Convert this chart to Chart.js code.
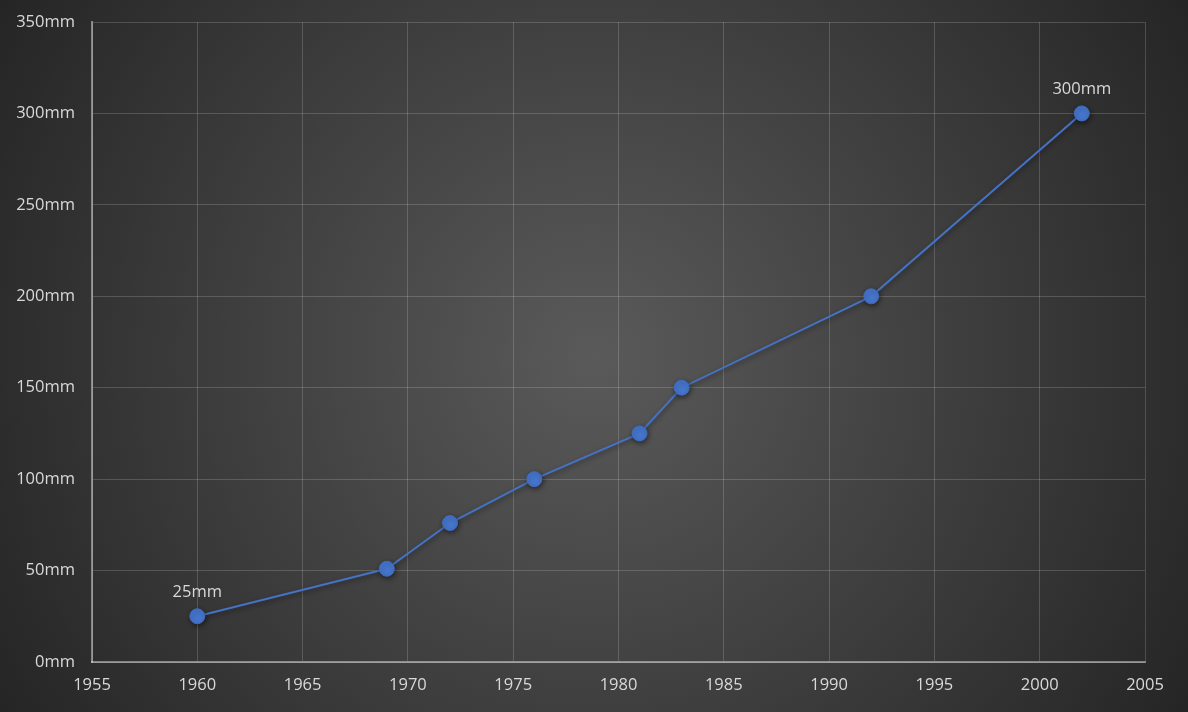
<!DOCTYPE html>
<html>
<head>
<meta charset="utf-8">
<script src="https://cdn.jsdelivr.net/npm/chart.js@4.4.1/dist/chart.umd.min.js"></script>
<style>
  html, body { margin: 0; padding: 0; background: #2b2b2b; }
  #wrap { width: 1188px; height: 712px; }
</style>
</head>
<body>
<div id="wrap"><canvas id="waferChart" width="1188" height="712"></canvas></div>
<script>
// wafer diameter by year
const years = [1960, 1969, 1972, 1976, 1981, 1983, 1992, 2002];
const diameters = [25, 51, 76, 100, 125, 150, 200, 300];
const labelledYears = [1960, 2002];

const textColor = '#d9d9d9';
const fontFamily = "'Open Sans', 'Noto Sans', sans-serif";
const fontSize = 16.5;

// radial background behind everything
const backgroundPlugin = {
  id: 'bg',
  beforeDraw: (chart) => {
    const ctx = chart.ctx;
    const w = chart.width, h = chart.height;
    const g = ctx.createRadialGradient(w / 2, h / 2, 0, w / 2, h / 2, Math.sqrt(w * w + h * h) / 2);
    g.addColorStop(0, '#5a5a5a');
    g.addColorStop(1, '#252525');
    ctx.save();
    ctx.fillStyle = g;
    ctx.fillRect(0, 0, w, h);
    ctx.restore();
  },
};

// soft shadow under line and markers
const shadowPlugin = {
  id: 'shadow',
  beforeDatasetsDraw: (chart) => {
    const ctx = chart.ctx;
    ctx.save();
    ctx.shadowColor = 'rgba(0,0,0,0.45)';
    ctx.shadowBlur = 5;
    ctx.shadowOffsetX = 1;
    ctx.shadowOffsetY = 2;
  },
  afterDatasetsDraw: (chart) => {
    chart.ctx.restore();
  },
};

// value labels above first and last point
const valueLabelPlugin = {
  id: 'valueLabels',
  afterDatasetsDraw: (chart) => {
    const ctx = chart.ctx;
    const xs = chart.scales.x, ys = chart.scales.y;
    ctx.save();
    ctx.fillStyle = textColor;
    ctx.font = fontSize + 'px ' + fontFamily;
    ctx.textAlign = 'center';
    ctx.textBaseline = 'bottom';
    years.forEach((yr, i) => {
      if (!labelledYears.includes(yr)) return;
      ctx.fillText(diameters[i] + 'mm', xs.getPixelForValue(yr), ys.getPixelForValue(diameters[i]) - 16);
    });
    ctx.restore();
  },
};

const ctx = document.getElementById('waferChart').getContext('2d');
new Chart(ctx, {
  type: 'scatter',
  data: {
    datasets: [
      {
        label: 'Wafer diameter',
        data: years.map((yr, i) => ({ x: yr, y: diameters[i] })),
        showLine: true,
        borderColor: '#4472c4',
        borderWidth: 2,
        backgroundColor: '#4675cc',
        pointBackgroundColor: '#4675cc',
        pointBorderColor: '#3f6cc0',
        pointBorderWidth: 1,
        pointRadius: 7.5,
        pointHoverRadius: 7.5,
      },
    ],
  },
  options: {
    responsive: false,
    animation: false,
    devicePixelRatio: 1,
    layout: { padding: { top: 22, right: 43, left: 0, bottom: 0 } },
    plugins: {
      legend: { display: false },
      tooltip: { enabled: false },
    },
    scales: {
      x: {
        type: 'linear',
        min: 1955,
        max: 2005,
        afterFit: (axis) => { axis.height = 50; axis.paddingLeft = 0; axis.paddingRight = 0; },
        ticks: {
          stepSize: 5,
          color: textColor,
          padding: 13,
          font: { size: fontSize, family: fontFamily },
          callback: (v) => String(v),
        },
        grid: { color: 'rgba(255,255,255,0.17)', lineWidth: 1, drawTicks: false },
        border: { color: 'rgba(255,255,255,0.42)', width: 2 },
      },
      y: {
        min: 0,
        max: 350,
        afterFit: (axis) => { axis.width = 92; axis.paddingTop = 0; axis.paddingBottom = 0; },
        ticks: {
          stepSize: 50,
          color: textColor,
          padding: 17,
          font: { size: fontSize, family: fontFamily },
          callback: (v) => v + 'mm',
        },
        grid: { color: 'rgba(255,255,255,0.17)', lineWidth: 1, drawTicks: false },
        border: { color: 'rgba(255,255,255,0.42)', width: 2 },
      },
    },
  },
  plugins: [backgroundPlugin, shadowPlugin, valueLabelPlugin],
});
</script>
</body>
</html>
